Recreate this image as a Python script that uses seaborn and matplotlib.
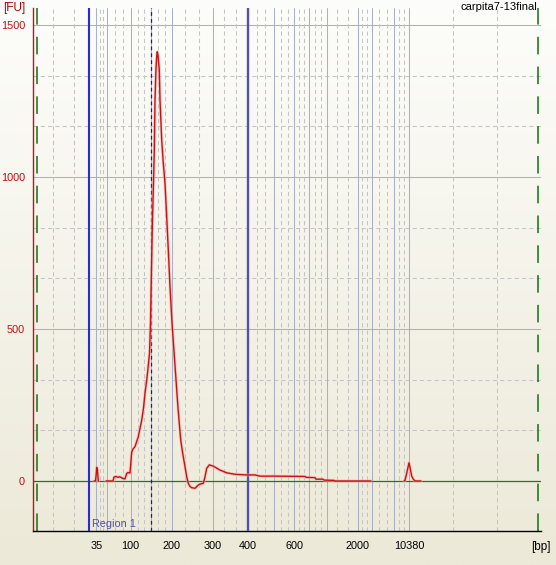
import numpy as np
import pandas as pd
import matplotlib
matplotlib.use("Agg")
import matplotlib.pyplot as plt
from matplotlib.colors import LinearSegmentedColormap
import seaborn as sns

titulo = "carpita7-13final"

# escalera: posicion de migracion (unidades de tiempo del eje) y tamaño en bp
ladder_pos = [96.3, 106.7, 130.7, 151.3, 171.7, 212.7, 247.7, 274.3, 294.3,
              309.3, 327.3, 357.7, 371.7, 394.3, 409.3]
ladder_bp = [35, 50, 100, 150, 200, 300, 400, 500, 600, 700, 1000, 2000,
             3000, 7000, 10380]
ladder_etiquetas = ["35", "", "100", "", "200", "300", "400", "", "600", "",
                    "", "2000", "", "", "10380"]
grid_extra = [53.3, 74.3, 453.3, 497.3]

# lineas de region y marcas
region_ini = 89.0
region_fin = 247.7
marca_pico = 151.3
limites_verdes = [37.3, 538.3]

# senal [FU]
seg_a_x = [94, 95.5, 96.2, 96.7, 97.4, 98.3]
seg_a_fu = [0, 0, 22, 45, 38, 0]

seg_b_x = [106, 113, 114, 116, 118, 119.5, 121, 123, 125, 126.7, 128, 130,
           131.7, 133, 135, 138.3, 141.7, 143.5, 145, 146.7, 148, 149.5,
           150.5, 151.5, 152.3, 153.3, 154.3, 155, 156, 156.8, 157.3, 158,
           159.3, 160, 161.7, 163.3, 165, 166.7, 168, 170, 172, 175, 178,
           180.7, 182.7, 185, 186.7, 188.3, 190, 191.7, 195, 198.3, 201,
           203.3, 205, 206.7, 209.3, 213.3, 220, 226.7, 235, 246.7, 255,
           260, 273.3, 305, 306, 315, 316, 323, 324, 334, 335, 371]
seg_b_fu = [0, 0, 13, 15, 12, 14, 12, 8, 7, 25, 28, 26,
            95, 105, 113, 146, 200, 240, 289, 332, 370, 420,
            520, 700, 836, 957, 1089, 1253, 1357, 1400, 1412, 1400,
            1352, 1253, 1122, 1045, 979, 869, 780, 640, 520, 380, 240,
            135, 91, 47, 14, -8, -18, -22, -24, -13, -9,
            -8, 14, 42, 53, 49, 36, 27, 22, 20, 20,
            16, 16, 15, 12, 11, 6, 6, 3, 2, 0, 0]

seg_c_x = [404, 405, 407, 409, 410, 411.7, 413.3, 415, 421]
seg_c_fu = [0, 2, 30, 60, 45, 16, 6, 0, 0]

df = pd.concat([
    pd.DataFrame({"t": seg_a_x, "fu": seg_a_fu, "seg": "a"}),
    pd.DataFrame({"t": seg_b_x, "fu": seg_b_fu, "seg": "b"}),
    pd.DataFrame({"t": seg_c_x, "fu": seg_c_fu, "seg": "c"}),
], ignore_index=True)

# --- figura ---
sns.set_style("white")
plt.rcParams["font.family"] = ["Liberation Sans", "DejaVu Sans"]

fig = plt.figure(figsize=(5.56, 5.65), dpi=100)

# fondo degradado (estilo XP)
bg = fig.add_axes([0, 0, 1, 1], zorder=-1)
cmap_bg = LinearSegmentedColormap.from_list("bg", ["#ece9d8", "#fdfdfb"])
bg.imshow(np.linspace(0, 1, 256).reshape(-1, 1), aspect="auto", cmap=cmap_bg,
          extent=[0, 1, 0, 1], origin="lower")
bg.axis("off")

W, H = 556, 565
ax = fig.add_axes([33 / W, (H - 531) / H, (541 - 33) / W, (531 - 8) / H])
ax.set_facecolor("none")

ax.set_xlim(33, 541)
ax.set_ylim(-164.5, 1556)

gris_solido = "#a9b1c2"
gris_guion = "#c4c4c4"
guion = (0, (4, 3))

# rejilla horizontal
for v in np.arange(-3, 10) * 500 / 3:
    if abs(v) < 1:
        continue
    if abs(v % 500) < 1 or abs(v % 500 - 500) < 1:
        ax.axhline(v, color=gris_solido, lw=0.75, zorder=1)
    else:
        ax.axhline(v, color=gris_guion, lw=0.75, ls=guion, zorder=1)

# rejilla vertical
for p in ladder_pos:
    ax.axvline(p, color=gris_solido, lw=0.75, zorder=1)
for a, b in zip(ladder_pos[:-1], ladder_pos[1:]):
    for f in (1 / 3, 2 / 3):
        ax.axvline(a + (b - a) * f, color=gris_guion, lw=0.75, ls=guion, zorder=1)
for p in grid_extra:
    ax.axvline(p, color=gris_guion, lw=0.75, ls=guion, zorder=1)

# lineas limite verdes
for p in limites_verdes:
    ax.axvline(p, color="#107010", lw=1.1, ls=(0, (11.5, 8)), zorder=2)

# linea base
ax.axhline(0, color="#108010", lw=0.9, zorder=2)

# region y marcador
ax.axvline(region_ini, color="#2a2ad6", lw=1.5, zorder=3)
ax.axvline(region_fin, color="#5252aa", lw=1.7, zorder=3)
ax.axvline(marca_pico, color="#1a1aa8", lw=0.9, ls=(0, (3, 2.5)), zorder=3)

# senal
sns.lineplot(data=df, x="t", y="fu", units="seg", estimator=None, sort=False,
             color="#f4b0b0", lw=2.2, alpha=0.6, ax=ax, zorder=4)
sns.lineplot(data=df, x="t", y="fu", units="seg", estimator=None, sort=False,
             color="#cc1010", lw=1.0, ax=ax, zorder=5)

# ejes
for s in ["top", "right"]:
    ax.spines[s].set_visible(False)
ax.spines["left"].set_color("#cc1010")
ax.spines["left"].set_linewidth(1.0)
ax.spines["bottom"].set_color("black")
ax.spines["bottom"].set_linewidth(1.0)

ax.set_yticks([0, 500, 1000, 1500])
ax.set_yticklabels(["0", "500", "1000", "1500"])
ax.tick_params(axis="y", colors="#c01010", length=5, width=1, pad=0.8, labelsize=7.8)
ax.set_xticks(ladder_pos)
ax.set_xticklabels(ladder_etiquetas)
ax.tick_params(axis="x", colors="black", length=5, width=0.8, pad=2, labelsize=7.8)
ax.set_xlabel("")
ax.set_ylabel("")

ax.text(region_ini + 3, -141, "Region 1", color="#5050b0", fontsize=7.8,
        ha="left", va="center", zorder=6)

fig.text(3 / W, 1 - 2 / H, "[FU]", color="#b00000", fontsize=8.5, ha="left", va="top")
fig.text(537 / W, 1 - 2 / H, titulo, color="black", fontsize=8, ha="right", va="top")
fig.text(541 / W, 1 - 547 / H, "[bp]", color="black", fontsize=8.5, ha="center", va="center")

fig.savefig("out.png", dpi=100)
plt.close(fig)
